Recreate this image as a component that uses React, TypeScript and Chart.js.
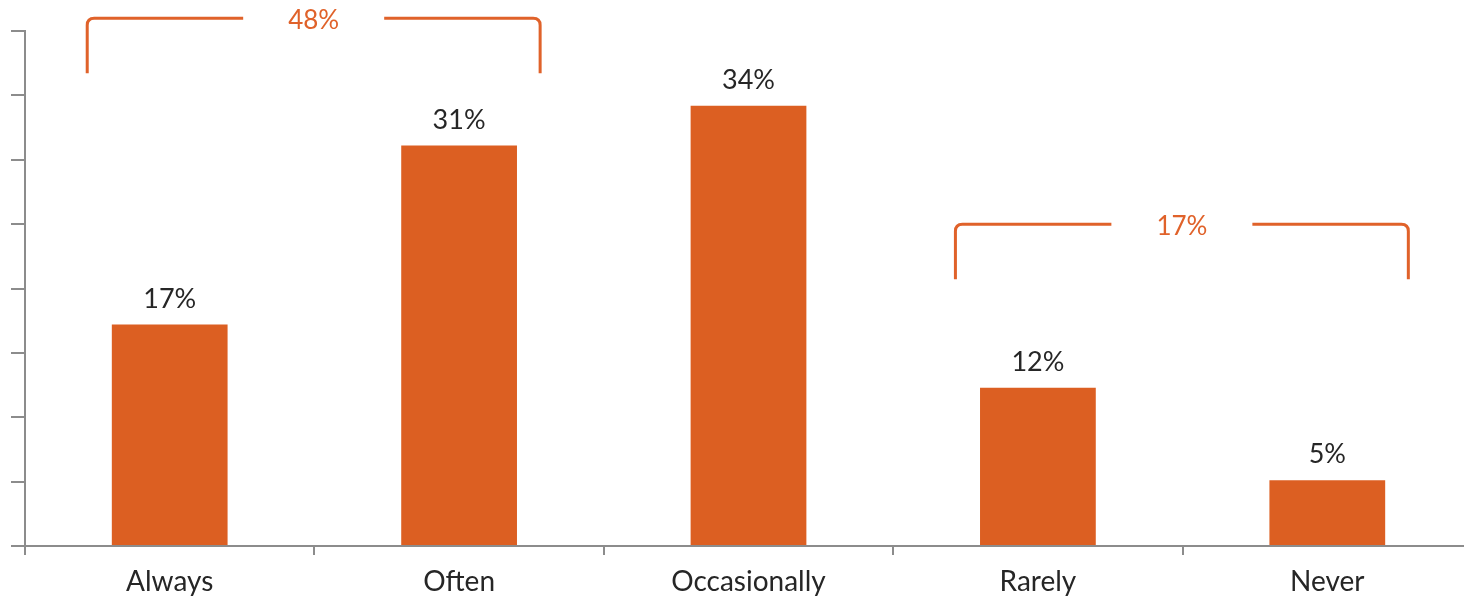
import React, { useEffect, useRef } from "react";
import { Chart, registerables } from "chart.js";

Chart.register(...registerables);

const categories = ["Always", "Often", "Occasionally", "Rarely", "Never"];
const values = [17.2, 31.1, 34.2, 12.3, 5.1];
const valueLabels = ["17%", "31%", "34%", "12%", "5%"];

const bracketLabels = ["48%", "17%"];
const bracketStart = [0, 3];
const bracketEnd = [1, 4];
const bracketLevel = [41, 25];

const ORANGE = "#DC5F22";
const BRACKET = "#E0622A";
const AXIS = "#8c8c8c";
const TEXT = "#262626";
const FONT = "Lato, 'Open Sans', sans-serif";

const labelPlugin = {
  id: "valueLabels",
  afterDatasetsDraw(chart: any) {
    const ctx = chart.ctx;
    const meta = chart.getDatasetMeta(0);
    ctx.save();
    ctx.font = `27px ${FONT}`;
    ctx.fillStyle = TEXT;
    ctx.textAlign = "center";
    ctx.textBaseline = "alphabetic";
    meta.data.forEach((bar: any, i: number) => {
      ctx.fillText(valueLabels[i], bar.x, bar.y - 17);
    });
    ctx.restore();
  },
};

const bracketPlugin = {
  id: "brackets",
  afterDraw(chart: any) {
    const ctx = chart.ctx;
    const xs = chart.scales.x;
    const ys = chart.scales.y;
    const catW = xs.getPixelForValue(1) - xs.getPixelForValue(0);
    ctx.save();
    ctx.font = `26px ${FONT}`;
    ctx.strokeStyle = BRACKET;
    ctx.fillStyle = BRACKET;
    ctx.lineWidth = 3;
    ctx.lineCap = "butt";
    ctx.lineJoin = "round";
    bracketLabels.forEach((lab, i) => {
      const left = xs.getPixelForValue(bracketStart[i]) - catW * 0.285;
      const right = xs.getPixelForValue(bracketEnd[i]) + catW * 0.28;
      const y = ys.getPixelForValue(bracketLevel[i]);
      const leg = 55;
      const r = 7;
      const mid = (left + right) / 2;
      const tw = ctx.measureText(lab).width;
      const half = tw / 2 + 45;
      ctx.beginPath();
      ctx.moveTo(left, y + leg);
      ctx.lineTo(left, y + r);
      ctx.quadraticCurveTo(left, y, left + r, y);
      ctx.lineTo(mid - half, y);
      ctx.moveTo(mid + half, y);
      ctx.lineTo(right - r, y);
      ctx.quadraticCurveTo(right, y, right, y + r);
      ctx.lineTo(right, y + leg);
      ctx.stroke();
      ctx.textAlign = "center";
      ctx.textBaseline = "middle";
      ctx.fillText(lab, mid, y + 2);
    });
    ctx.restore();
  },
};

export default function App() {
  const ref = useRef<HTMLCanvasElement | null>(null);
  useEffect(() => {
    if (!ref.current) return;
    const chart = new Chart(ref.current, {
      type: "bar",
      data: {
        labels: categories,
        datasets: [
          {
            data: values,
            backgroundColor: ORANGE,
            borderWidth: 0,
            barPercentage: 0.4,
            categoryPercentage: 1,
          },
        ],
      },
      options: {
        responsive: false,
        animation: false,
        layout: { padding: { top: 31, left: 11, right: 18, bottom: 1 } },
        plugins: {
          legend: { display: false },
          tooltip: { enabled: false },
          title: { display: false },
        },
        scales: {
          x: {
            grid: {
              display: true,
              drawOnChartArea: false,
              drawTicks: true,
              tickLength: 9,
              color: AXIS,
              lineWidth: 2,
              offset: true,
            },
            border: { display: true, color: AXIS, width: 2 },
            ticks: {
              color: TEXT,
              font: { family: FONT, size: 28, lineHeight: 1 },
              padding: 13,
              maxRotation: 0,
            },
          },
          y: {
            min: 0,
            max: 40,
            ticks: { display: false, stepSize: 5 },
            grid: {
              display: true,
              drawOnChartArea: false,
              drawTicks: true,
              tickLength: 14,
              color: AXIS,
              lineWidth: 2,
            },
            border: { display: true, color: AXIS, width: 2 },
          },
        },
      },
      plugins: [labelPlugin, bracketPlugin],
    });
    return () => chart.destroy();
  }, []);
  return (
    <div
      style={{
        position: "absolute",
        left: 0,
        top: 0,
        width: 1464,
        height: 596,
        overflow: "hidden",
        background: "#fff",
      }}
    >
      <canvas ref={ref} width={1490} height={610} style={{ display: "block" }} />
    </div>
  );
}
